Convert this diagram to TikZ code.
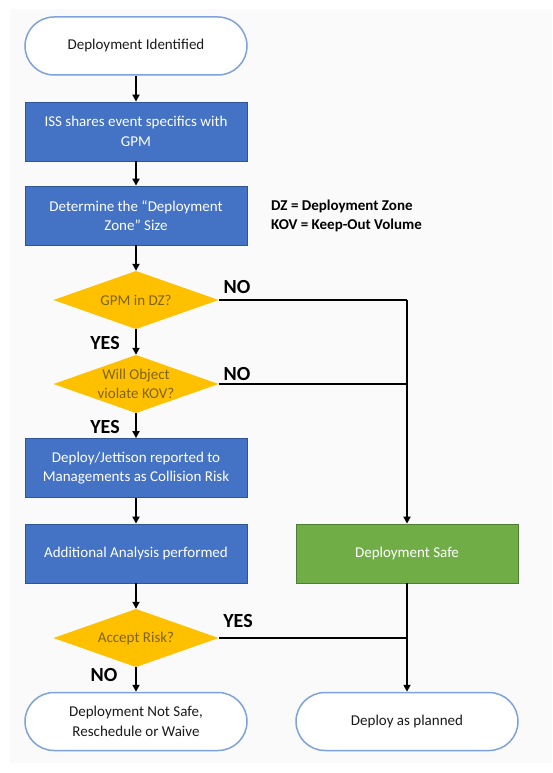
\documentclass[tikz,border=0pt]{standalone}
\usepackage{fontspec}
\setmainfont{Carlito}
\usetikzlibrary{arrows.meta}
\definecolor{bluefill}{HTML}{4472C4}
\definecolor{blueline}{HTML}{2F5597}
\definecolor{yellowfill}{HTML}{FFC000}
\definecolor{yellowtext}{HTML}{7F6414}
\definecolor{greenfill}{HTML}{70AD47}
\definecolor{greenline}{HTML}{507E32}
\definecolor{termline}{HTML}{7FA1DC}
\definecolor{bgpanel}{HTML}{FAFAFA}
\definecolor{textdark}{HTML}{1A1A1A}
\tikzset{
  base/.style={inner sep=0pt, align=center, font=\fontsize{15}{19.5}\selectfont},
  terminal/.style={base, draw=termline, line width=1.5pt, fill=white, text=textdark,
    minimum width=222pt, minimum height=58pt, rounded corners=29pt},
  process/.style={base, draw=blueline, line width=0.8pt, fill=bluefill, text=white,
    minimum width=222pt, minimum height=59pt},
  safebox/.style={base, draw=greenline, line width=0.8pt, fill=greenfill, text=white,
    minimum width=222pt, minimum height=59pt},
  decision/.style={base, rectangle, minimum width=165pt, minimum height=58pt, text=yellowtext,
    path picture={\fill[yellowfill] (path picture bounding box.west) -- (path picture bounding box.north)
      -- (path picture bounding box.east) -- (path picture bounding box.south) -- cycle;}},
  flow/.style={line width=1.8pt, -{Triangle[length=7pt,width=7pt]}},
  flowline/.style={line width=1.8pt},
  answer/.style={font=\fontsize{20}{24}\selectfont\bfseries, text=black, inner sep=0pt},
  legend/.style={font=\fontsize{15}{19}\selectfont\bfseries, text=black, inner sep=0pt, anchor=west}
}
\begin{document}
\begin{tikzpicture}[x=1pt,y=-1pt]
\useasboundingbox (0,0) rectangle (552,773);
\fill[bgpanel] (10,9) rectangle (552,763);

\node[terminal] (start) at (136,46) {Deployment Identified};
\node[process] (share) at (136,131.5) {ISS shares event specifics with\\GPM};
\node[process] (size) at (136,215.5) {Determine the “Deployment\\Zone” Size};
\node[decision] (indz) at (136,300) {GPM in DZ?};
\node[decision] (kov) at (136,384) {Will Object\\violate KOV?};
\node[process] (report) at (136,468) {Deploy/Jettison reported to\\Managements as Collision Risk};
\node[process] (analysis) at (136,553.5) {Additional Analysis performed};
\node[decision] (accept) at (136,638) {Accept Risk?};
\node[terminal] (notsafe) at (136,721.5) {Deployment Not Safe,\\Reschedule or Waive};
\node[safebox] (safe) at (407,553.5) {Deployment Safe};
\node[terminal] (planned) at (407,721.5) {Deploy as planned};

\node[legend] (dz) at (271,206) {DZ = Deployment Zone};
\node[legend] (kovdef) at (271,225) {KOV = Keep-Out Volume};

\coordinate (j1) at (407,300);
\coordinate (j2) at (407,384);
\coordinate (j3) at (407,638);

\draw[flow] (start) -- (share);
\draw[flow] (share) -- (size);
\draw[flow] (size) -- (indz);
\draw[flow] (indz) -- (kov);
\draw[flow] (kov) -- (report);
\draw[flow] (report) -- (analysis);
\draw[flow] (analysis) -- (accept);
\draw[flow] (accept) -- (notsafe);
\draw[flowline] (indz.east) -- (j1);
\draw[flow] (j1) -- (safe.north);
\draw[flowline] (kov.east) -- (j2);
\draw[flow] (safe) -- (planned);
\draw[flowline] (accept.east) -- (j3);

\node[answer] (no1) at (237,287) {NO};
\node[answer] (yes1) at (105,343) {YES};
\node[answer] (no2) at (237,374) {NO};
\node[answer] (yes2) at (105,427) {YES};
\node[answer] (yes3) at (238,621) {YES};
\node[answer] (no3) at (104,675) {NO};
\end{tikzpicture}
\end{document}
